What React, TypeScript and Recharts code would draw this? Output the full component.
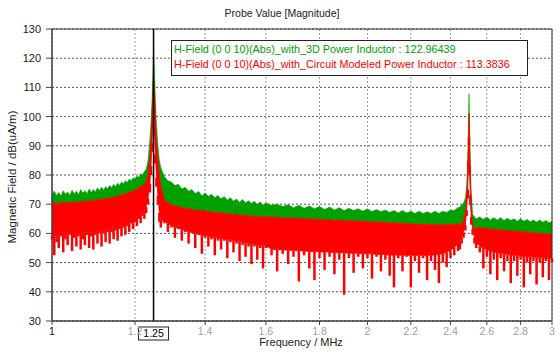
import { ComposedChart, Area, Line, ErrorBar, XAxis, YAxis, CartesianGrid, ReferenceLine, ReferenceArea } from 'recharts'

// frequency samples (MHz)
const freq = [
  1.0, 1.005, 1.01, 1.015, 1.02, 1.025, 1.03, 1.035, 1.04, 1.045, 1.05, 1.055, 1.06, 1.065, 1.07, 1.075,
  1.08, 1.085, 1.09, 1.095, 1.1, 1.105, 1.11, 1.115, 1.12, 1.125, 1.13, 1.135, 1.14, 1.145, 1.15, 1.155,
  1.16, 1.165, 1.17, 1.175, 1.18, 1.185, 1.19, 1.195, 1.2, 1.205, 1.21, 1.215, 1.22, 1.225,
  1.23, 1.235, 1.24, 1.243, 1.246, 1.248, 1.25, 1.252, 1.255, 1.258, 1.262, 1.266, 1.27, 1.275,
  1.28, 1.29, 1.3, 1.31, 1.32, 1.33, 1.34, 1.35, 1.36, 1.37, 1.38, 1.39, 1.4, 1.41, 1.42, 1.43, 1.44,
  1.45, 1.46, 1.47, 1.48, 1.49, 1.5, 1.51, 1.52, 1.53, 1.54, 1.55, 1.56, 1.57, 1.58, 1.59, 1.6,
  1.62, 1.64, 1.66, 1.68, 1.7, 1.72, 1.74, 1.76, 1.78, 1.8, 1.82, 1.84, 1.86, 1.88, 1.9, 1.92, 1.94,
  1.96, 1.98, 2.0, 2.02, 2.04, 2.06, 2.08, 2.1, 2.12, 2.14, 2.16, 2.18, 2.2, 2.22, 2.24, 2.26, 2.28,
  2.3, 2.32, 2.34, 2.36, 2.38, 2.4, 2.42, 2.44,
  2.45, 2.46, 2.47, 2.48, 2.487, 2.493, 2.497, 2.5, 2.503, 2.507, 2.512, 2.52, 2.53, 2.54,
  2.56, 2.58, 2.6, 2.62, 2.64, 2.66, 2.68, 2.7, 2.72, 2.74, 2.76, 2.78, 2.8, 2.82, 2.84, 2.86, 2.88,
  2.9, 2.92, 2.94, 2.96, 2.98, 3.0,
]

// 3D power inductor: upper edge of the noise band (dB)
const greenTop = [
  73.5, 74.5, 73.0, 74.0, 72.8, 74.6, 73.4, 74.2, 73.0, 74.8, 73.6, 74.4, 73.2, 75.0, 73.8, 74.6,
  73.6, 75.2, 74.0, 75.0, 74.2, 75.6, 74.6, 75.8, 74.8, 76.0, 75.2, 76.4, 75.6, 76.8, 76.0, 77.2,
  76.4, 77.6, 77.0, 78.0, 77.4, 78.6, 78.0, 79.0, 78.6, 79.6, 79.2, 80.4, 80.0, 81.2,
  82.0, 85, 92, 98, 106, 114, 123, 116, 106, 97, 90, 85, 82.5, 81,
  79.5, 78.0, 77.6, 76.4, 76.8, 75.2, 75.8, 74.4, 75.0, 73.6, 74.4, 72.8, 73.8, 72.6, 73.4, 72.2, 73.0,
  71.8, 72.6, 71.4, 72.2, 71.0, 71.8, 70.6, 71.6, 70.4, 71.2, 70.2, 71.0, 69.8, 70.8, 69.6, 70.4,
  69.6, 70.0, 69.2, 69.8, 68.8, 69.6, 68.6, 69.4, 68.4, 69.2, 68.2, 69.0, 68.0, 68.8, 67.8, 68.6, 67.8,
  68.4, 67.6, 68.4, 67.4, 68.2, 67.4, 68.0, 67.2, 67.8, 67.0, 67.8, 67.0, 67.6, 66.8, 67.6, 66.8, 67.4,
  66.8, 67.6, 66.8, 67.6, 67.2, 68.0, 67.8, 68.8,
  69.0, 69.6, 70.4, 72.0, 76, 85, 97, 107.8, 97, 84, 74, 66.5, 65.6, 65.0,
  65.6, 64.8, 65.6, 64.6, 65.4, 64.6, 65.4, 64.4, 65.2, 64.4, 65.0, 64.2, 65.0, 64.2, 64.8, 64.0, 64.6,
  63.8, 64.6, 63.8, 64.4, 63.6, 64.2,
]

// circuit modeled power inductor: upper edge of the band
const redTop = [
  70.2, 70.6, 70.0, 70.4, 70.3, 70.8, 70.4, 70.5, 70.2, 70.7, 70.6, 70.9, 70.5, 70.8, 70.9, 71.2,
  70.9, 71.3, 71.1, 71.2, 71.4, 71.7, 71.3, 71.8, 71.6, 72.0, 71.8, 72.3, 72.1, 72.5, 72.5, 72.8,
  72.9, 73.2, 73.2, 73.6, 73.7, 74.1, 74.2, 74.7, 74.8, 75.2, 75.6, 76.0, 76.4, 77.0,
  77.5, 80, 86, 92, 100, 107, 113.4, 108, 99, 91, 85, 80, 76, 74,
  71.5, 70.4, 69.9, 69.3, 69.2, 68.8, 68.7, 68.3, 68.4, 67.9, 68.1, 67.6, 67.8, 67.3, 67.5, 67.0, 67.2,
  66.9, 67.0, 66.6, 66.8, 66.4, 66.6, 66.2, 66.4, 66.0, 66.2, 65.8, 66.0, 65.6, 65.8, 65.5, 65.7,
  65.5, 65.6, 65.2, 65.4, 65.1, 65.2, 64.9, 65.1, 64.7, 64.9, 64.6, 64.7, 64.4, 64.6, 64.2, 64.4, 64.2,
  64.3, 64.0, 64.2, 63.8, 64.0, 63.8, 63.8, 63.5, 63.7, 63.4, 63.5, 63.2, 63.4, 63.0, 63.3, 63.0, 63.1,
  62.9, 63.1, 62.8, 63.0, 62.9, 63.1, 63.0, 63.4,
  62.6, 63.4, 64.6, 67.0, 72, 80, 91, 101, 90, 78, 68, 62, 61.6, 62.0,
  62.0, 61.7, 61.7, 61.4, 61.5, 61.2, 61.3, 61.0, 61.1, 60.8, 60.9, 60.6, 60.7, 60.4, 60.5, 60.2, 60.3,
  60.0, 60.1, 59.8, 59.9, 59.6, 59.8,
]

// circuit modeled: bottom of the dense (solid) part of the band
const redFloor = [
  59.2, 59.0, 59.2, 59.4, 59.6, 59.4, 59.4, 59.6, 60.0, 59.8, 59.6, 59.8, 60.0, 60.0, 59.8, 60.2,
  60.4, 60.2, 60.4, 60.4, 60.6, 60.8, 61.0, 61.0, 61.2, 61.4, 61.6, 61.6, 61.8, 62.0, 62.2, 62.4,
  62.6, 62.8, 63.2, 63.4, 63.8, 64.0, 64.6, 65.0, 65.4, 65.8, 66.4, 66.8, 67.4, 68.0,
  69, 72, 77, 83, 91, 99, 104, 97, 87, 79, 73, 67, 64.5, 65.5,
  64.0, 63.4, 62.6, 62.2, 61.8, 61.4, 61.0, 60.6, 60.4, 60.0, 59.8, 59.4, 59.2, 59.0, 58.8, 58.6, 58.4,
  58.2, 58.0, 57.8, 57.8, 57.6, 57.4, 57.2, 57.0, 56.8, 56.6, 56.4, 56.2, 56.0, 56.0, 55.8, 55.8,
  54.6, 54.4, 54.4, 54.2, 54.2, 54.0, 54.0, 53.8, 53.8, 53.6, 53.6, 53.6, 53.4, 53.4, 53.4, 53.2, 53.2,
  53.2, 53.0, 53.0, 53.0, 52.8, 52.8, 52.8, 52.6, 52.6, 52.6, 52.4, 52.6, 52.4, 52.4, 52.4, 52.4, 52.4,
  52.6, 52.6, 52.8, 53.0, 53.6, 54.2, 55.2, 56.4,
  57.2, 58.6, 60.4, 62.8, 68, 75, 85, 93, 83, 73, 65.5, 61.5, 58.6, 57.0,
  55.6, 55.0, 54.4, 54.0, 53.6, 53.4, 53.2, 53.0, 52.8, 52.6, 52.4, 52.4, 52.2, 52.2, 52.0, 52.0, 52.0,
  51.8, 51.8, 51.6, 51.6, 51.4, 51.4,
]

// circuit modeled: tips of the downward noise spikes
const redSpike = [
  58, 52.5, 57, 55, 59, 53.5, 58, 56, 59.5, 54, 58.5, 55.5, 59, 54.5, 58, 56,
  59.5, 55, 59, 54.5, 59.5, 56.5, 60, 55.5, 60, 57, 60.5, 56.5, 60.5, 58, 61, 57.5,
  61.5, 59, 62, 59.5, 62.5, 60.5, 63.5, 61.5, 64, 62.5, 65, 63.5, 66, 65,
  67, 70, 74, 80, 88, 96, 100, 94, 84, 76, 70, 64, 62, 64,
  63.5, 60.5, 62, 58.5, 61.5, 57.5, 60.5, 56.5, 60, 55, 59.5, 53, 58.5, 55.5, 58, 52.5, 57.5,
  54.5, 57.5, 51.5, 57, 53.5, 56.5, 50.5, 56, 52, 55.5, 49.5, 55.5, 51, 55, 48, 55,
  52.5, 47, 53, 49.5, 52, 43.5, 52.5, 48, 44, 51.5, 47.5, 52, 46, 51, 39, 51.5, 46.5,
  52, 48, 51.5, 44.5, 52, 47, 51, 45.5, 41.5, 51.5, 47, 52, 41.5, 50.5, 46.5, 51.5, 44,
  50.5, 47.5, 43, 50, 48.5, 51.5, 52.5, 54,
  54.5, 56.5, 58.5, 61, 66, 72, 82, 90, 80, 70, 63, 59.5, 56.5, 55,
  53.5, 48, 52, 46, 51, 44, 51.5, 47, 50.5, 43, 50.5, 45.5, 51, 41.5, 50, 46, 50.5,
  42.5, 50, 45, 50.5, 44, 50,
]

const xTicks = [1, 1.2, 1.4, 1.6, 1.8, 2, 2.2, 2.4, 2.6, 2.8, 3]
const yTicks = [30, 40, 50, 60, 70, 80, 90, 100, 110, 120, 130]
const cursorFreq = 1.25

const greenLabel = 'H-Field (0 0 10)(Abs)_with_3D Power Inductor : 122.96439'
const redLabel = 'H-Field (0 0 10)(Abs)_with_Circuit Modeled Power Inductor : 113.3836'

const GREEN = '#00a000'
const RED = '#ff0000'
const FONT = '"Liberation Sans", Arial, sans-serif'

// spikes hang below the solid part: error bar going down from the floor to the tip
const chartData = freq.map((f, i) => ({
  f,
  green: [redTop[i], greenTop[i]],
  red: [redFloor[i], redTop[i]],
  floor: redFloor[i],
  spike: [redFloor[i] - redSpike[i], 0],
}))

function FreqTick({ x, y, payload }: any) {
  const v = payload.value
  return (
    <text x={x} y={y} dy="0.75em" textAnchor="middle" fontSize={10.5} fontFamily={FONT} fill={v === 1 ? '#111' : '#a0a0a0'}>
      {v}
    </text>
  )
}

function CursorBox(props: any) {
  const vb = props.viewBox
  if (!vb) return null
  const cx = vb.x
  const top = vb.y + vb.height + 6
  return (
    <g>
      <rect x={cx - 15} y={top} width={30} height={13} fill="#fff" stroke="#222" strokeWidth={1} />
      <text x={cx} y={top + 10} textAnchor="middle" fontSize={10.5} fontFamily={FONT} fill="#000">
        {cursorFreq}
      </text>
    </g>
  )
}

export default function App() {
  return (
    <div style={{ position: 'absolute', left: 0, top: 0, width: 560, height: 356, background: '#fff', fontFamily: FONT }}>
      <ComposedChart width={560} height={356} data={chartData} margin={{ top: 29, right: 8, left: 0, bottom: 0 }}>
        <CartesianGrid horizontal={false} stroke="#9a9a9a" strokeDasharray="2 2" />
        <CartesianGrid vertical={false} stroke="#555" strokeDasharray="2 2" />
        <XAxis
          dataKey="f"
          type="number"
          scale="log"
          domain={[1, 3]}
          ticks={xTicks}
          height={35}
          tickSize={4}
          tickMargin={2}
          stroke="#444"
          tick={<FreqTick />}
          allowDataOverflow
        />
        <YAxis
          type="number"
          domain={[30, 130]}
          ticks={yTicks}
          width={52}
          tickSize={6}
          tickMargin={5}
          stroke="#444"
          tick={{ fontSize: 11, fill: '#222', fontFamily: FONT }}
          allowDataOverflow
        />
        <Area type="linear" dataKey="green" fill={GREEN} fillOpacity={1} stroke={GREEN} strokeWidth={0.6} isAnimationActive={false} />
        <Area type="linear" dataKey="red" fill={RED} fillOpacity={1} stroke={RED} strokeWidth={0.8} isAnimationActive={false} />
        <Line type="linear" dataKey="floor" stroke="none" dot={false} activeDot={false} isAnimationActive={false}>
          <ErrorBar dataKey="spike" direction="y" width={0} stroke={RED} strokeWidth={2.5} isAnimationActive={false} />
        </Line>
        <ReferenceArea x1={1} x2={3} y1={30} y2={130} fill="none" stroke="#333" strokeWidth={1} />
        <ReferenceLine x={cursorFreq} stroke="#000" strokeWidth={1.5} label={(p: any) => <CursorBox {...p} />} />
      </ComposedChart>

      <div style={{ position: 'absolute', left: 282, top: 13, transform: 'translate(-50%, -50%)', fontSize: 10.5, color: '#222', whiteSpace: 'nowrap' }}>
        Probe Value [Magnitude]
      </div>
      <div style={{ position: 'absolute', left: 12, top: 177, transform: 'translate(-50%, -50%) rotate(-90deg)', fontSize: 11.5, color: '#222', whiteSpace: 'nowrap' }}>
        Magnetic Field / dB(uA/m)
      </div>
      <div style={{ position: 'absolute', left: 301, top: 342, transform: 'translate(-50%, -50%)', fontSize: 11, color: '#222', whiteSpace: 'nowrap' }}>
        Frequency / MHz
      </div>
      <div
        style={{
          position: 'absolute',
          left: 171,
          top: 40,
          width: 353,
          height: 33,
          border: '1.5px solid #222',
          background: '#fff',
          padding: '1px 0 0 2px',
          fontSize: 10.8,
          lineHeight: '15px',
          whiteSpace: 'nowrap',
        }}
      >
        <div style={{ color: GREEN }}>{greenLabel}</div>
        <div style={{ color: RED }}>{redLabel}</div>
      </div>
    </div>
  )
}
